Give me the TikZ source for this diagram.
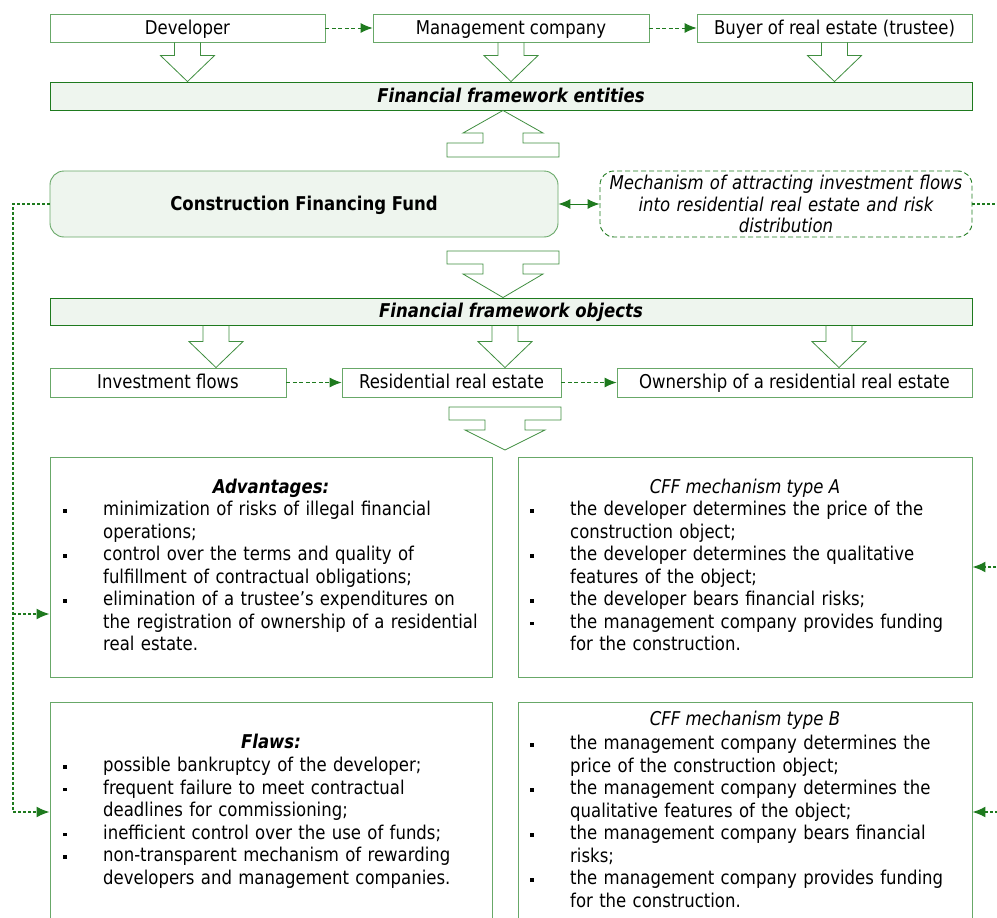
\documentclass[tikz,border=0pt]{standalone}
\usepackage{fontspec}
\setmainfont{DejaVu Sans}[FakeStretch=0.87]
\usetikzlibrary{arrows.meta}
\usetikzlibrary{calc}

\definecolor{fwgreen}{RGB}{30,122,30}
\definecolor{fwline}{RGB}{104,168,104}
\definecolor{fwfill}{RGB}{238,245,238}

% one bullet line of a panel
\newcommand{\cffitem}[1]{\par\hangindent=40pt\hangafter=1\noindent\makebox[40pt][l]{\rule[3pt]{3.5pt}{3.5pt}}#1\par}
% plain block arrow, from a point on the lower side of a node to its tip
\newcommand{\blkdown}[2]{\draw[blockarr] (#1) ++(-13,0) |- ($(#2)+(-27,-26)$) -- (#2) -- ++(27,-26) -- ++(-14,0) |- ($(#1)+(13,0)$);}
% block arrows with a box at their tail
\newcommand{\blkcalldown}[2]{\draw[blockarr] ($(#1)+(-56,0)$) -- ++(112,0) -- ++(0,13) -- ++(-36,0) -- ++(0,10) -- ++(20,0) -- (#2) -- ($(#1)+(-40,23)$) -- ++(20,0) -- ++(0,-10) -- ++(-36,0) -- cycle;}
\newcommand{\blkcallup}[2]{\draw[blockarr] ($(#1)+(-56,0)$) -- ++(112,0) -- ++(0,-14) -- ++(-36,0) -- ++(0,-10) -- ++(20,0) -- (#2) -- ($(#1)+(-40,-24)$) -- ++(20,0) -- ++(0,10) -- ++(-36,0) -- cycle;}

\begin{document}
\begin{tikzpicture}
    [
    x=1pt, y=-1pt,
    font=\fontsize{19}{22.5}\selectfont,
    box/.style={draw=fwline,line width=0.9pt,inner sep=0pt,minimum height=28pt,text height=15.5pt,text depth=3pt},
    bar/.style={draw=fwgreen,fill=fwfill,line width=0.9pt,inner sep=0pt,minimum width=922pt,minimum height=28pt,text height=15.5pt,text depth=3pt,font=\fontsize{19}{22.5}\selectfont\bfseries\itshape},
    panel/.style={draw=fwline,line width=0.9pt,inner sep=0pt,minimum height=220pt},
    paneltitle/.style={inner sep=0pt,anchor=base},
    itemlist/.style={inner sep=0pt,anchor=north west,text width=440pt,align=left},
    blockarr/.style={draw=fwgreen!85,line width=0.8pt,line join=miter},
    dashlink/.style={draw=fwgreen,line width=0.9pt,dash pattern=on 4pt off 2.5pt,-{Latex[length=12pt,width=10pt]}},
    dotline/.style={draw=fwgreen,line width=1.7pt,dash pattern=on 3pt off 2pt},
    dotlink/.style={dotline,-{Latex[length=13pt,width=11pt]}}
    ]
    \useasboundingbox (0,0) rectangle (997,918);
    \fill[white] (0,0) rectangle (997,918);
    \clip (0,0) rectangle (997,918);

    % entities
    \node (dev) at (187.5,28) [box,minimum width=275pt] {Developer};
    \node (mgmt) at (511,28) [box,minimum width=276pt] {Management company};
    \node (buyer) at (834.5,28) [box,minimum width=275pt] {Buyer of real estate (trustee)};
    \node (ent) at (511,96) [bar] {Financial framework entities};
    \draw [dashlink] (dev) to (mgmt);
    \draw [dashlink] (mgmt) to (buyer);
    \blkdown{dev.south}{dev.south |- ent.north}
    \blkdown{mgmt.south}{mgmt.south |- ent.north}
    \blkdown{buyer.south}{buyer.south |- ent.north}

    % fund and mechanism
    \node (cff) at (304,204) [box,fill=fwfill,rounded corners=14pt,minimum width=508pt,minimum height=66pt,font=\fontsize{19}{22.5}\selectfont\bfseries] {Construction Financing Fund};
    \node (mech) at (786,204) [draw=fwgreen,line width=0.9pt,inner sep=0pt,dash pattern=on 5pt off 3pt,rounded corners=14pt,minimum width=372pt,minimum height=66pt,text width=372pt,align=center,font=\fontsize{19}{21.5}\selectfont\itshape] {Mechanism of attracting investment flows\\into residential real estate and risk\\distribution};
    \draw [fwgreen,line width=1pt,{Latex[length=12pt,width=10pt]}-{Latex[length=12pt,width=10pt]}] (cff) to (mech);
    \coordinate (up1) at (503,157);
    \blkcallup{up1}{up1 |- ent.south}

    % objects
    \node (obj) at (511,311.5) [bar,minimum height=27pt] {Financial framework objects};
    \coordinate (dn1) at (503,251);
    \blkcalldown{dn1}{dn1 |- obj.north}
    \node (inv) at (168,382.5) [box,minimum width=236pt,minimum height=29pt] {Investment flows};
    \node (res) at (451.5,382.5) [box,minimum width=219pt,minimum height=29pt] {Residential real estate};
    \node (own) at (794.5,382.5) [box,minimum width=355pt,minimum height=29pt] {Ownership of a residential real estate};
    \draw [dashlink] (inv) to (res);
    \draw [dashlink] (res) to (own);
    \coordinate (o1) at ($(inv.north)+(48,0)$);
    \coordinate (o2) at ($(res.north)+(53.5,0)$);
    \coordinate (o3) at ($(own.north)+(44.5,0)$);
    \blkdown{o1 |- obj.south}{o1}
    \blkdown{o2 |- obj.south}{o2}
    \blkdown{o3 |- obj.south}{o3}
    \coordinate (dn2) at (505,407);
    \coordinate (dn2tip) at (505,450);
    \blkcalldown{dn2}{dn2tip}

    % panels
    \node (adv) at (271,567) [panel,minimum width=442pt] {};
    \node (cffa) at (745,567) [panel,minimum width=454pt] {};
    \node (flaws) at (271,812) [panel,minimum width=442pt] {};
    \node (cffb) at (745,812) [panel,minimum width=454pt] {};

    \node (advtitle) at (271,493) [paneltitle,font=\fontsize{19}{22.5}\selectfont\bfseries\itshape] {Advantages:};
    \node (advlist) at (63,493) [itemlist] {%
      \cffitem{\strut minimization of risks of illegal financial\newline operations;}
      \cffitem{control over the terms and quality of\newline fulfillment of contractual obligations;}
      \cffitem{elimination of a trustee’s expenditures on\newline the registration of ownership of a residential\newline real estate.}};

    \node (cffatitle) at (745,493) [paneltitle,font=\fontsize{19}{22.5}\selectfont\itshape] {CFF mechanism type A};
    \node (cffalist) at (530,493) [itemlist] {%
      \cffitem{\strut the developer determines the price of the\newline construction object;}
      \cffitem{the developer determines the qualitative\newline features of the object;}
      \cffitem{the developer bears financial risks;}
      \cffitem{the management company provides funding\newline for the construction.}};

    \node (flawstitle) at (271,748) [paneltitle,font=\fontsize{19}{22.5}\selectfont\bfseries\itshape] {Flaws:};
    \node (flawslist) at (63,749) [itemlist] {%
      \cffitem{\strut possible bankruptcy of the developer;}
      \cffitem{frequent failure to meet contractual\newline deadlines for commissioning;}
      \cffitem{inefficient control over the use of funds;}
      \cffitem{non-transparent mechanism of rewarding\newline developers and management companies.}};

    \node (cffbtitle) at (745,725) [paneltitle,font=\fontsize{19}{22.5}\selectfont\itshape] {CFF mechanism type B};
    \node (cffblist) at (530,727) [itemlist] {%
      \cffitem{\strut the management company determines the\newline price of the construction object;}
      \cffitem{the management company determines the\newline qualitative features of the object;}
      \cffitem{the management company bears financial\newline risks;}
      \cffitem{the management company provides funding\newline for the construction.}};

    % side links
    \coordinate (lbus) at (13,204);
    \coordinate (rbus) at (1001,204);
    \coordinate (lfork) at ([yshift=-47pt]adv.west -| lbus);
    \coordinate (rfork) at (cffa.east -| rbus);
    \draw [dotlink] (cff.west) -- (lbus) |- (flaws.west);
    \draw [dotlink] (lfork) -- ([yshift=-47pt]adv.west);
    \draw [dotlink] (mech.east) -- (rbus) |- (cffb.east);
    \draw [dotlink] (rfork) -- (cffa.east);
\end{tikzpicture}
\end{document}
